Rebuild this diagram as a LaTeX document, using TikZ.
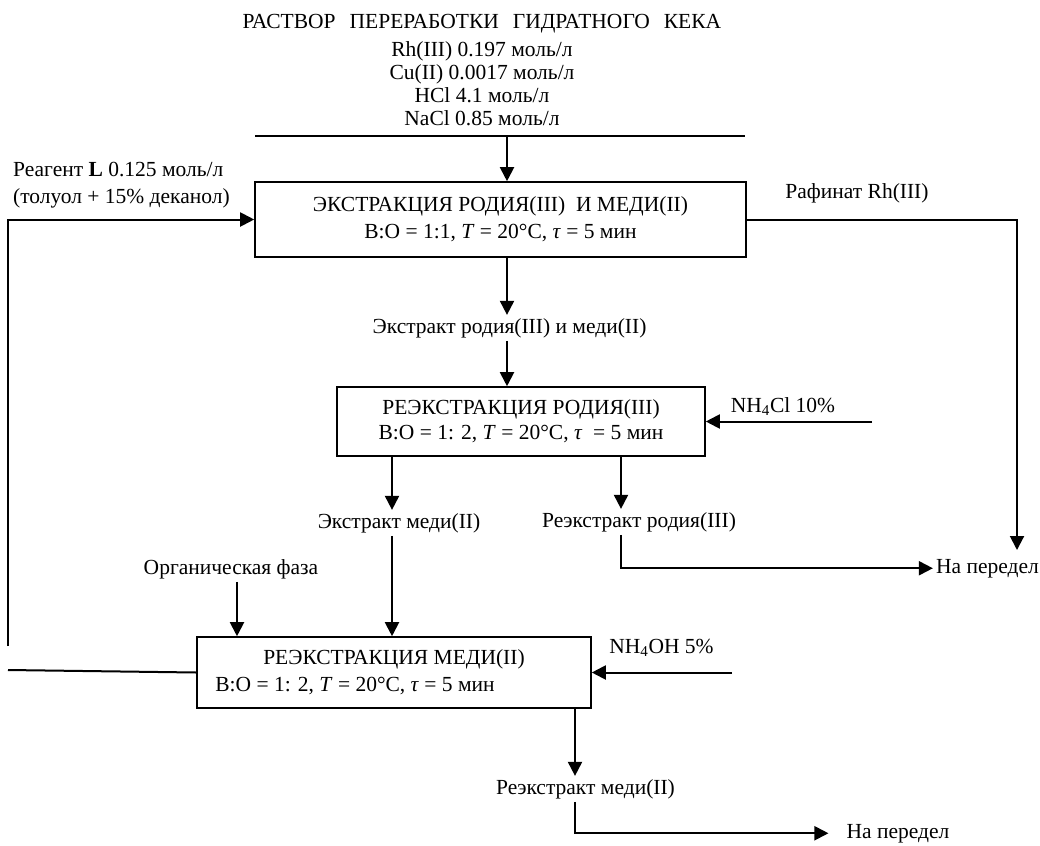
\documentclass[tikz,border=0pt]{standalone}
\usepackage{fontspec}
\setmainfont{Liberation Serif}
\usetikzlibrary{arrows.meta,positioning}

\begin{document}
\begin{tikzpicture}[
    x=1pt, y=-1pt,
    every node/.style={font=\fontsize{21.5}{23}\selectfont},
    stage/.style={draw, line width=1.6pt, align=center, inner sep=0pt},
    lbl/.style={inner sep=3pt, anchor=base},
    flow/.style={-{Triangle[length=14pt,width=14pt]}, line width=2pt},
    pipe/.style={line width=2pt},
  ]
    \useasboundingbox (0,0) rectangle (1040,845);

    % Feed solution
    \node[align=center, anchor=north, inner sep=0pt] (src) at (482,14) {РАСТВОР\hspace{14pt}ПЕРЕРАБОТКИ\hspace{14pt}ГИДРАТНОГО\hspace{14pt}КЕКА\\[5pt] Rh(III) 0.197 моль/л\\ Cu(II) 0.0017 моль/л\\ HCl 4.1 моль/л\\ NaCl 0.85 моль/л};

    % Stages
    \node[stage, minimum width=491pt, minimum height=75pt] (ext) at (500.5,219.5) {ЭКСТРАКЦИЯ РОДИЯ(III)\ \ И МЕДИ(II)\\[4pt] В:О = 1:1, \textit{T} = 20°C, \textit{τ} = 5 мин};
    \node[stage, minimum width=368pt, minimum height=69pt] (rhstrip) at (521,421.5) {РЕЭКСТРАКЦИЯ РОДИЯ(III)\\[2pt] В:О = 1: 2, \textit{T} = 20°C, \textit{τ}\ \ = 5 мин};
    \node[stage, minimum width=394pt, minimum height=71pt] (custrip) at (394,672.5) {РЕЭКСТРАКЦИЯ МЕДИ(II)\\[4pt] В:О = 1: 2, \textit{T} = 20°C, \textit{τ} = 5 мин\hspace*{78pt}};

    % Labels
    \node[lbl, align=left, anchor=north west] (reag) at (10,159) {Реагент \textbf{L} 0.125 моль/л\\[4pt] (толуол + 15\% деканол)};
    \node[lbl] (raf) at (857,198) {Рафинат Rh(III)};
    \node[lbl] (extract) at (509.5,333) {Экстракт родия(III) и меди(II)};
    \node[lbl] (nhcl) at (783,412) {NH\textsubscript{4}Cl 10\%};
    \node[lbl] (cuext) at (399,528) {Экстракт меди(II)};
    \node[lbl] (rhre) at (639,527) {Реэкстракт родия(III)};
    \node[lbl] (org) at (231,574) {Органическая фаза};
    \node[lbl, anchor=base east] (out1) at (1042,573) {На передел};
    \node[lbl] (nhoh) at (661.5,653) {NH\textsubscript{4}OH 5\%};
    \node[lbl] (cure) at (585.5,794) {Реэкстракт меди(II)};
    \node[lbl] (out2) at (898,838) {На передел};

    % Free ends and bends
    \coordinate (feedL) at (255,136);
    \coordinate (feedR) at (745,136);
    \coordinate (feed) at (507,136);
    \coordinate (rafdown) at (1017,550);
    \coordinate (nhclin) at (872,421.5);
    \coordinate (nhohin) at (732,672.5);
    \coordinate (recL) at (8,670);
    \coordinate (recB) at (8,646);
    \coordinate (cux) at (392,0);
    \coordinate (rhx) at (621,0);
    \coordinate (orgx) at (237,0);
    \coordinate (curex) at (575,0);

    % Flows
    \draw[pipe] (feedL) -- (feedR);
    \draw[flow] (feed) -- (feed |- ext.north);
    \draw[flow] (feed |- ext.south) -- (feed |- extract.north);
    \draw[flow] (extract.south -| feed) -- (feed |- rhstrip.north);
    \draw[flow] (recB) |- (ext.west);
    \draw[flow] (ext.east) -| (rafdown);
    \draw[flow] (nhclin) -- (rhstrip.east);
    \draw[flow] (rhstrip.south -| cux) -- (cux |- cuext.north);
    \draw[flow] (cuext.south -| cux) -- (cux |- custrip.north);
    \draw[flow] (rhstrip.south -| rhx) -- (rhx |- rhre.north);
    \draw[flow] (rhre.south -| rhx) |- (out1.west);
    \draw[flow] (org.south -| orgx) -- (orgx |- custrip.north);
    \draw[pipe] (custrip.west) -- (recL);
    \draw[flow] (nhohin) -- (custrip.east);
    \draw[flow] (custrip.south -| curex) -- (curex |- cure.north);
    \draw[flow] (cure.south -| curex) |- ([xshift=-15pt]out2.west);
\end{tikzpicture}
\end{document}
